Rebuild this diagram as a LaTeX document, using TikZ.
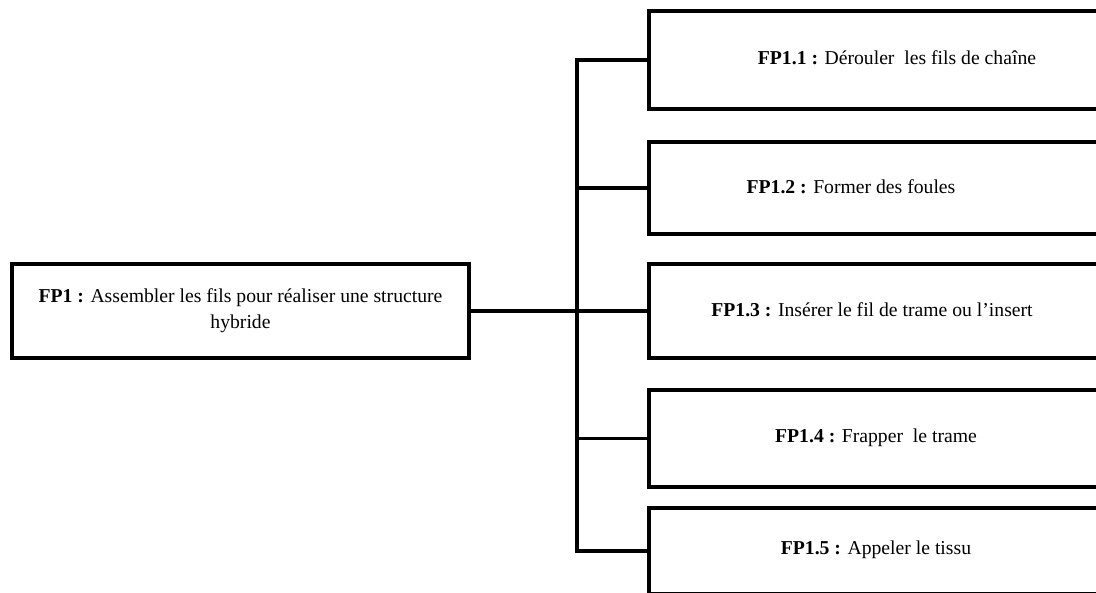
\documentclass[tikz,border=0pt]{standalone}
\usepackage{fontspec}
\setmainfont{Liberation Serif}
\usepackage{tikz}
\usetikzlibrary{positioning, calc}
\tikzset{
    fpbox/.style ={rectangle, draw=black, line width=2pt, minimum width=10cm, anchor=west, inner sep=0pt},
    mainbox/.style={rectangle, draw=black, line width=2pt, minimum width=9.14cm, minimum height=1.88cm, align=center, font=\fontsize{11.2}{14.7}\selectfont},
    fptext/.style={font=\fontsize{11.2}{13}\selectfont, inner sep=1pt},
    link/.style  ={line width=2pt, line cap=rect},
}
\begin{document}
\begin{tikzpicture}[x=0.02cm, y=-0.02cm]
                \clip (0,0) rectangle (1096,592);
                \node[mainbox] (fp) at (240.5,311) {\textbf{FP1 :} Assembler les fils pour réaliser une structure\\ hybride};
                % boxes on the right
                \node[fpbox, minimum height=1.96cm](b1) at (647,60){};
                \node[fpbox, minimum height=1.84cm](b2) at (647,188){};
                \node[fpbox, minimum height=1.88cm](b3) at (647,311){};
                \node[fpbox, minimum height=1.94cm](b4) at (647,438.5){};
                \node[fpbox, minimum height=1.72cm](b5) at (647,551){};
                \node[fptext](t1) at (897,58){\textbf{FP1.1 :} Dérouler\ \ les fils de chaîne};
                \node[fptext](t2) at (851,187){\textbf{FP1.2 :} Former des foules};
                \node[fptext](t3) at (872,310){\textbf{FP1.3 :} Insérer le fil de trame ou l’insert};
                \node[fptext](t4) at (876,438){\textbf{FP1.4 :} Frapper\ \ le trame};
                \node[fptext](t5) at (876,550){\textbf{FP1.5 :} Appeler le tissu};
                % connectors
                \coordinate (top) at ($(b1.west)+(-70,0)$);
                \coordinate (bot) at ($(b5.west)+(-70,0)$);
                \draw[link](b1.west)--(top)--(bot)--(b5.west);
                \draw[link](b2.west)--(b2.west -| top);
                \draw[link](b4.west)--(b4.west -| top);
                \draw[link](fp.east)--(b3.west);
            \end{tikzpicture}
\end{document}
